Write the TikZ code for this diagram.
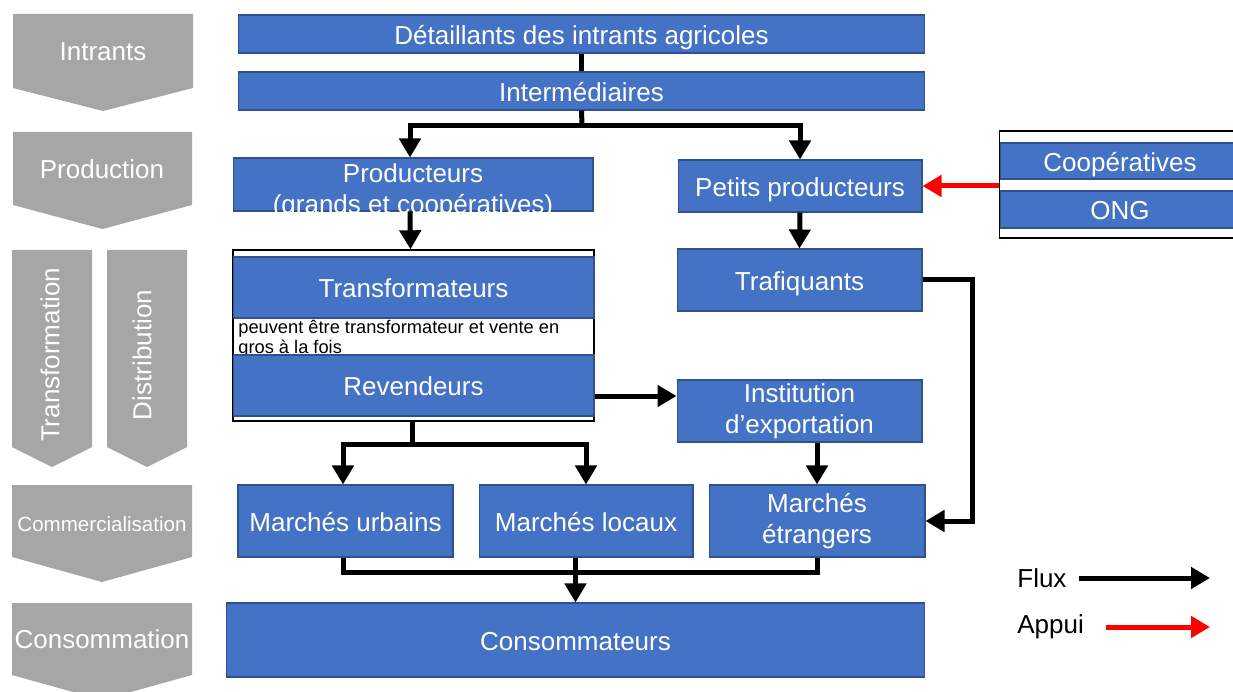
\documentclass[tikz,border=0pt]{standalone}
\usepackage{fontspec}
\setmainfont{Liberation Sans}
\usetikzlibrary{arrows.meta}
\definecolor{boxblue}{HTML}{4472C4}
\definecolor{boxedge}{HTML}{2F528F}
\definecolor{stagegrey}{HTML}{A6A6A6}

\begin{document}
\begin{tikzpicture}[x=0.02cm,y=-0.02cm,
    blueshape/.style={draw=boxedge, line width=0.6pt, fill=boxblue, text=white,
      inner sep=0pt, align=center, font=\fontsize{14.8}{17.6}\selectfont},
    bluebox/.style={draw=boxedge, line width=0.6pt, fill=boxblue, text=white,
      inner sep=0pt, text height=0.42cm, text depth=0pt, font=\fontsize{14.8}{17.6}\selectfont},
    stagetxt/.style={text=white, inner sep=0pt, font=\fontsize{14.8}{17.6}\selectfont},
    frame/.style={draw=black, line width=0.8pt, inner sep=0pt},
    fluxline/.style={line width=0.1cm},
    flux/.style={fluxline, -{Triangle[length=0.38cm,width=0.42cm]}},
    appui/.style={flux, red}]
\useasboundingbox (0,0) rectangle (1233,692);

% grey stage chevrons
\foreach \xa/\xb/\yt/\ys/\yp in {13/193/14/88/111, 13/192/132/205/229,
    12/92/250/447/467, 107/187/250/447/467, 12/192/485/557/582, 12/192/603/675/700}
  \fill[stagegrey] (\xa,\yt) -- (\xb,\yt) -- (\xb,\ys) -- ({(\xa+\xb)/2},\yp) -- (\xa,\ys) -- cycle;
\node[stagetxt] (sint) at (103,52) {Intrants};
\node[stagetxt] (sprod) at (102,169) {Production};
\node[stagetxt, rotate=90] (strans) at (50,355) {Transformation};
\node[stagetxt, rotate=90] (sdist) at (142,355) {Distribution};
\node[stagetxt, font=\fontsize{11.7}{14}\selectfont] (scom) at (102,524) {Commercialisation};
\node[stagetxt] (scons) at (102,639) {Consommation};

% actors
\node[bluebox, minimum width=13.74cm, minimum height=0.76cm] (det) at (581.5,34) {Détaillants des intrants agricoles};
\node[bluebox, minimum width=13.74cm, minimum height=0.76cm] (inter) at (581.5,91) {Intermédiaires};
\node[bluebox, minimum width=7.2cm, minimum height=1.06cm] (prod) at (413,184.5) {};
\node[text=white, inner sep=0pt, align=center, font=\fontsize{14.8}{17.6}\selectfont] (prodtxt)
  at (413,191) {Producteurs\\(grands et coopératives)};
\node[bluebox, minimum width=4.88cm, minimum height=1.04cm] (petits) at (800,186) {Petits producteurs};

% support group
\node[frame, minimum width=4.9cm, minimum height=2.14cm] (appuis) at (1122,184.5) {};
\node[bluebox, minimum width=4.8cm, minimum height=0.72cm] (coop) at (1120,161) {Coopératives};
\node[bluebox, minimum width=4.8cm, minimum height=0.74cm] (ong) at (1120,209.5) {ONG};

% transformation and distribution
\node[frame, minimum width=7.22cm, minimum height=3.42cm] (tframe) at (413.5,335.5) {};
\node[bluebox, minimum width=7.22cm, minimum height=1.22cm] (trans) at (413.5,287.5) {Transformateurs};
\node[anchor=north west, inner sep=0pt, align=left, font=\fontsize{10.4}{11.3}\selectfont] (note)
  at (238,320) {peuvent être transformateur et vente en\\gros à la fois};
\node[bluebox, minimum width=7.22cm, minimum height=1.22cm] (rev) at (413.5,385.5) {Revendeurs};
\node[bluebox, minimum width=4.9cm, minimum height=1.24cm] (traf) at (799.5,280) {Trafiquants};
\node[blueshape, minimum width=4.9cm, minimum height=1.24cm] (inst) at (799.5,411) {Institution\\d’exportation};

% markets
\node[bluebox, minimum width=4.3cm, minimum height=1.44cm] (murb) at (345.5,521) {Marchés urbains};
\node[bluebox, minimum width=4.28cm, minimum height=1.44cm] (mloc) at (586,521) {Marchés locaux};
\node[blueshape, minimum width=4.32cm, minimum height=1.44cm] (metr) at (817,521) {Marchés\\étrangers};
\node[bluebox, minimum width=13.98cm, minimum height=1.48cm] (cons) at (575.5,640) {Consommateurs};

% flows
\coordinate (split1) at (582,126);
\coordinate (split2) at (412,444);
\coordinate (merge) at (575,572);
\coordinate (expy) at (0,396);
\draw[fluxline] (det.south) -- (inter.north);
\draw[fluxline] (inter.south) -- (split1);
\draw[flux] (split1) -| ([xshift=-0.06cm]prod.north);
\draw[flux] (split1) -| (petits.north);
\draw[flux] ([xshift=-0.06cm]prod.south) -- ([xshift=-0.06cm]tframe.north);
\draw[flux] (petits.south) -- (traf.north);
\draw[flux] (traf.east) -- ++(50,0) |- (metr.east);
\draw[flux] (tframe.east |- expy) -- (inst.west |- expy);
\draw[flux] (metr.north |- inst.south) -- (metr.north);
\draw[fluxline] (tframe.south -| split2) -- (split2);
\draw[flux] (split2) -| ([xshift=-0.05cm]murb.north);
\draw[flux] (split2) -| (mloc.north);
\draw[fluxline] ([xshift=-0.05cm]murb.south) |- (merge) -| (metr.south);
\draw[flux] (cons.north |- mloc.south) -- (cons.north);
\draw[appui] (appuis.west |- petits.east) -- (petits.east);

% legend
\node[anchor=west, inner sep=0pt, font=\fontsize{14.8}{17.6}\selectfont] (lflux) at (1017,578) {Flux};
\node[anchor=west, inner sep=0pt, font=\fontsize{14.8}{17.6}\selectfont] (lappui) at (1017,627) {Appui};
\coordinate (fluxend) at (1210,578);
\coordinate (appuiend) at (1210,627);
\draw[flux] ([xshift=0.24cm]lflux.east) -- (fluxend);
\draw[appui] ([xshift=0.44cm]lappui.east) -- (appuiend);
\end{tikzpicture}
\end{document}
